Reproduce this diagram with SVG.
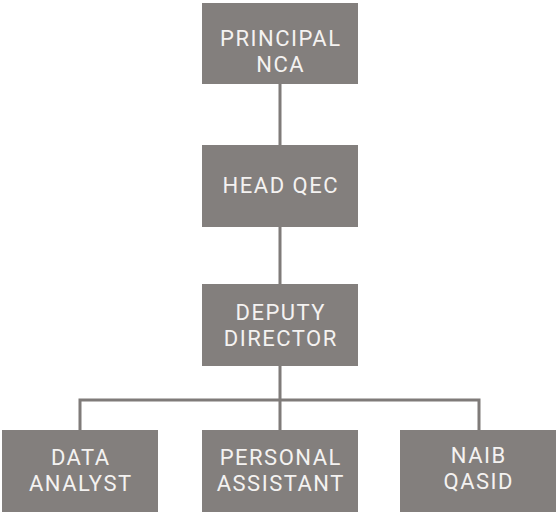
<svg xmlns="http://www.w3.org/2000/svg" width="559" height="516" viewBox="0 0 559 516">
<style>
.box{fill:#837f7d}
.lbl{font-family:Roboto,"Liberation Sans",sans-serif;font-size:22px;fill:#f4f2f1;text-anchor:middle;letter-spacing:1.5px}
.con{stroke:#7f7b79;stroke-width:3;fill:none}
</style>
<g id="connectors">
<path class="con" d="M280 84V145M280 227V284M280 366V430M80 430V400H479V430"/>
</g>
<g id="principal"><rect class="box" x="202" y="3" width="156" height="81"/><text class="lbl" x="280.8" y="46">PRINCIPAL</text><text class="lbl" x="280.8" y="72">NCA</text></g>
<g id="head-qec"><rect class="box" x="202" y="145" width="156" height="82"/><text class="lbl" x="280.8" y="193">HEAD QEC</text></g>
<g id="deputy-director"><rect class="box" x="202" y="284" width="156" height="82"/><text class="lbl" x="280.8" y="320">DEPUTY</text><text class="lbl" x="280.8" y="346">DIRECTOR</text></g>
<g id="data-analyst"><rect class="box" x="2" y="430" width="156" height="82"/><text class="lbl" x="80.8" y="465">DATA</text><text class="lbl" x="80.8" y="491">ANALYST</text></g>
<g id="personal-assistant"><rect class="box" x="202" y="430" width="156" height="82"/><text class="lbl" x="280.8" y="465">PERSONAL</text><text class="lbl" x="280.8" y="491">ASSISTANT</text></g>
<g id="naib-qasid"><rect class="box" x="400" y="430" width="156" height="82"/><text class="lbl" x="478.8" y="463">NAIB</text><text class="lbl" x="478.8" y="489">QASID</text></g>
</svg>
